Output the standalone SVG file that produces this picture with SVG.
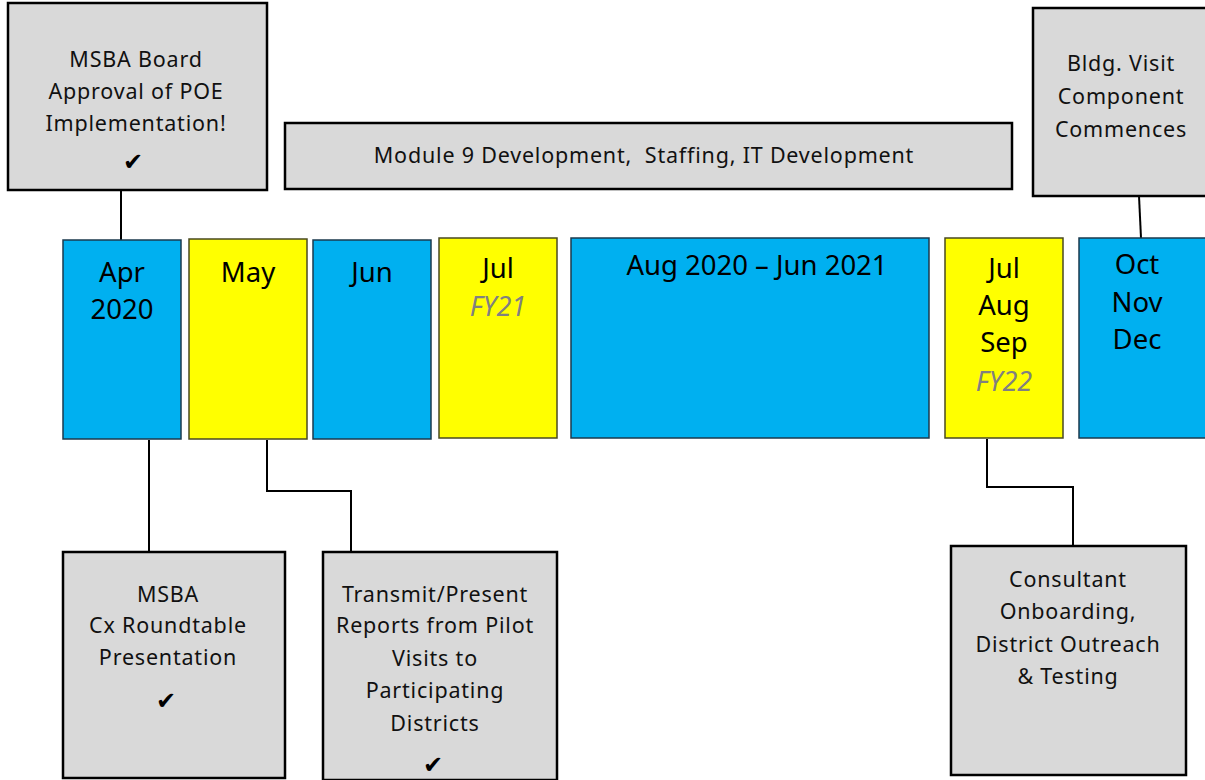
<svg xmlns="http://www.w3.org/2000/svg" width="1205" height="780" viewBox="0 0 1205 780">
<style>
.note{fill:#D9D9D9;stroke:#000;stroke-width:2.5}
.blue{fill:#00B0F0;stroke:#1B3A4E;stroke-width:1.5}
.yellow{fill:#FFFF00;stroke:#4A4A20;stroke-width:1.5}
.nt{font-family:"Noto Sans","Liberation Sans",sans-serif;font-size:21.5px;fill:#111;text-anchor:middle;letter-spacing:0.8px}
.mt{font-family:"Noto Sans","Liberation Sans",sans-serif;font-size:27.5px;fill:#000;text-anchor:middle}
.fy{font-family:"Noto Sans","Liberation Sans",sans-serif;font-size:27px;fill:#808080;font-style:italic;text-anchor:middle}
.ck{font-family:"DejaVu Sans",sans-serif;font-size:24px;fill:#000;text-anchor:middle}
.conn{fill:none;stroke:#000;stroke-width:2}
</style>
<rect width="1205" height="780" fill="#fff"/>
<g id="connectors">
<path class="conn" d="M121,190 V240"/>
<path class="conn" d="M1139,196 L1141,238"/>
<path class="conn" d="M149,440 V552"/>
<path class="conn" d="M267,440 V491 H351 V552"/>
<path class="conn" d="M987,439 V487 H1073 V546"/>
</g>
<g id="board">
<rect class="note" x="8" y="3" width="259" height="187"/>
<text class="nt" x="136" y="67">MSBA Board</text>
<text class="nt" x="136" y="99">Approval of POE</text>
<text class="nt" x="136" y="131">Implementation!</text>
<text class="ck" x="133" y="170">✔</text>
</g>
<g id="module9">
<rect class="note" x="285" y="123" width="727" height="66"/>
<text class="nt" x="644" y="163" xml:space="preserve">Module 9 Development,  Staffing, IT Development</text>
</g>
<g id="bldg">
<rect class="note" x="1033" y="8" width="176" height="188"/>
<text class="nt" x="1121" y="71">Bldg. Visit</text>
<text class="nt" x="1121" y="104">Component</text>
<text class="nt" x="1121" y="137">Commences</text>
</g>
<g id="apr">
<rect class="blue" x="63" y="240" width="118" height="199"/>
<text class="mt" x="122" y="282">Apr</text>
<text class="mt" x="122" y="319">2020</text>
</g>
<g id="may">
<rect class="yellow" x="189" y="239" width="118" height="200"/>
<text class="mt" x="248" y="282">May</text>
</g>
<g id="jun">
<rect class="blue" x="313" y="240" width="118" height="199"/>
<text class="mt" x="372" y="282">Jun</text>
</g>
<g id="jul">
<rect class="yellow" x="439" y="238" width="118" height="200"/>
<text class="mt" x="498" y="278">Jul</text>
<text class="fy" x="498" y="316">FY21</text>
</g>
<g id="aug">
<rect class="blue" x="571" y="238" width="358" height="200"/>
<text class="mt" x="757" y="275">Aug 2020 – Jun 2021</text>
</g>
<g id="julsep">
<rect class="yellow" x="945" y="238" width="118" height="200"/>
<text class="mt" x="1004" y="278">Jul</text>
<text class="mt" x="1004" y="315">Aug</text>
<text class="mt" x="1004" y="352">Sep</text>
<text class="fy" x="1004" y="391">FY22</text>
</g>
<g id="octdec">
<rect class="blue" x="1079" y="238" width="130" height="200"/>
<text class="mt" x="1137" y="274">Oct</text>
<text class="mt" x="1137" y="312">Nov</text>
<text class="mt" x="1137" y="349">Dec</text>
</g>
<g id="cx">
<rect class="note" x="63" y="552" width="222" height="226"/>
<text class="nt" x="168" y="602">MSBA</text>
<text class="nt" x="168" y="633">Cx Roundtable</text>
<text class="nt" x="168" y="665">Presentation</text>
<text class="ck" x="166" y="709">✔</text>
</g>
<g id="transmit">
<rect class="note" x="323" y="552" width="234" height="228"/>
<text class="nt" x="435" y="602">Transmit/Present</text>
<text class="nt" x="435" y="633">Reports from Pilot</text>
<text class="nt" x="435" y="666">Visits to</text>
<text class="nt" x="435" y="698">Participating</text>
<text class="nt" x="435" y="731">Districts</text>
<text class="ck" x="433" y="773">✔</text>
</g>
<g id="consultant">
<rect class="note" x="951" y="546" width="235" height="229"/>
<text class="nt" x="1068" y="587">Consultant</text>
<text class="nt" x="1068" y="619">Onboarding,</text>
<text class="nt" x="1068" y="652">District Outreach</text>
<text class="nt" x="1068" y="684">&amp; Testing</text>
</g>
</svg>
